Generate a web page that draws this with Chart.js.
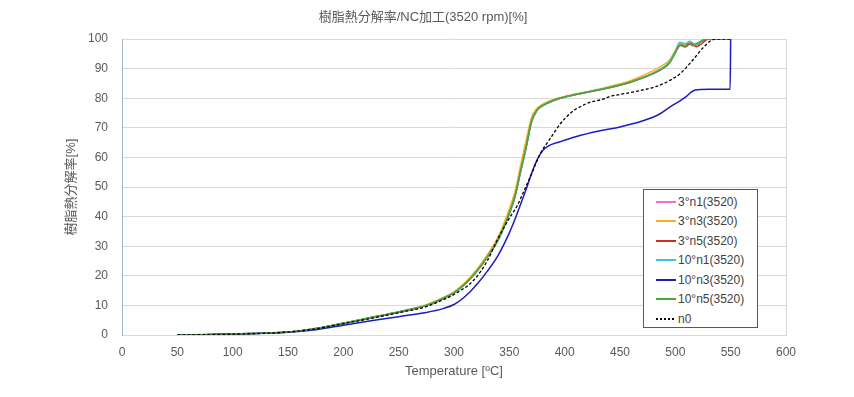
<!DOCTYPE html>
<html>
<head>
<meta charset="utf-8">
<script src="https://cdn.jsdelivr.net/npm/chart.js@4.4.1/dist/chart.umd.min.js"></script>
<style>
  body { margin: 0; background: #fff; font-family: "Liberation Sans", "Noto Sans CJK JP", sans-serif; }
  #wrap { position: relative; width: 854px; height: 397px; }
  #legend { position: absolute; left: 643px; top: 189px; width: 115px; height: 139px; box-sizing: border-box;
            border: 1px solid #595959; background: #fff; padding-top: 2px; }
  .row { height: 19.5px; display: flex; align-items: center; font-size: 12px; color: #404040; }
  .swatch { display: block; width: 20px; height: 2px; margin-left: 12px; margin-right: 2px; }
</style>
</head>
<body>
<div id="wrap">
  <canvas id="chart" width="854" height="397"></canvas>
  <div id="legend"></div>
</div>
<script>
const TITLE = "樹脂熱分解率/NC加工(3520 rpm)[%]";
const X_TITLE = "Temperature [ºC]";
const Y_TITLE = "樹脂熱分解率[%]";

const seriesNames = ["3°n1(3520)", "3°n3(3520)", "3°n5(3520)", "10°n1(3520)", "10°n3(3520)", "10°n5(3520)", "n0"];

// temperature [°C] / decomposition rate [%]
const t3n1 = [50, 75, 100, 125, 150, 175, 200, 225, 250, 275, 290, 300, 310, 320, 330, 340, 350, 355, 360, 365, 370, 375, 380, 390, 400, 420, 440, 460, 480, 490, 495, 500, 505, 510, 514, 518, 522, 529, 550];
const r3n1 = [0, 0.1, 0.3, 0.6, 1.0, 2.2, 4.0, 5.9, 7.8, 10.0, 12.4, 14.3, 17.3, 21.3, 26.3, 32.3, 41.3, 46.8, 55.3, 63.5, 72.2, 76.0, 77.5, 79.3, 80.4, 82.0, 83.6, 85.6, 88.5, 90.7, 92.3, 95.6, 98.4, 97.8, 98.9, 98.0, 98.8, 100, 100];

const t3n3 = [50, 75, 100, 125, 150, 175, 200, 225, 250, 275, 290, 300, 310, 320, 330, 340, 350, 355, 360, 365, 370, 375, 380, 390, 400, 420, 440, 460, 480, 490, 495, 500, 504, 509, 513, 517, 521, 528, 550];
const r3n3 = [0, 0.1, 0.3, 0.6, 1.0, 2.2, 4.0, 5.9, 7.9, 10.2, 12.6, 14.6, 17.7, 21.9, 27.0, 33.3, 42.6, 48.3, 57.0, 65.5, 73.5, 76.6, 78.0, 79.6, 80.6, 82.2, 83.9, 86.0, 89.3, 91.5, 93.0, 96.2, 98.6, 97.9, 98.8, 97.9, 98.6, 100, 100];

const t3n5 = [50, 75, 100, 125, 150, 175, 200, 225, 250, 275, 290, 300, 310, 320, 330, 340, 350, 355, 360, 365, 370, 375, 380, 390, 400, 420, 440, 460, 480, 490, 495, 500, 505, 509, 514, 519, 523, 530, 550];
const r3n5 = [0, 0.1, 0.3, 0.6, 1.0, 2.2, 4.0, 5.9, 7.8, 10.0, 12.3, 14.2, 17.2, 21.2, 26.2, 32.2, 41.0, 46.6, 55.0, 63.2, 72.0, 75.9, 77.4, 79.2, 80.4, 82.0, 83.5, 85.5, 88.4, 90.5, 92.2, 95.5, 98.0, 97.3, 98.6, 97.4, 98.2, 100, 100];

const t10n1 = [50, 75, 100, 125, 150, 175, 200, 225, 250, 275, 290, 300, 310, 320, 330, 340, 350, 355, 360, 365, 370, 375, 380, 390, 400, 420, 440, 460, 480, 490, 495, 500, 504, 509, 513, 517, 521, 527, 550];
const r10n1 = [0, 0.1, 0.3, 0.6, 1.0, 2.2, 4.0, 5.9, 7.8, 10.0, 12.3, 14.2, 17.2, 21.2, 26.2, 32.1, 41.0, 46.5, 54.8, 63.0, 71.8, 75.8, 77.4, 79.2, 80.4, 82.0, 83.5, 85.5, 88.4, 90.6, 92.4, 95.8, 98.9, 98.4, 99.2, 98.4, 98.9, 100, 100];

const t10n3 = [50, 100, 150, 175, 200, 225, 250, 275, 290, 300, 310, 320, 330, 340, 350, 355, 360, 366, 370, 375, 380, 385, 396, 410, 432, 450, 470, 485, 495, 505, 510, 514, 518, 530, 549.5, 550];
const r10n3 = [0, 0.3, 0.9, 1.8, 3.3, 4.8, 6.2, 7.6, 8.9, 10.3, 13.0, 16.8, 21.5, 27.0, 34.5, 39.0, 44.0, 50.1, 54.5, 59.1, 62.2, 63.8, 65.3, 67.0, 69.0, 70.3, 72.3, 74.5, 77.0, 79.3, 80.6, 82.0, 82.8, 83.0, 83.0, 100];

const t10n5 = [50, 75, 100, 125, 150, 175, 200, 225, 250, 275, 290, 300, 310, 320, 330, 340, 350, 355, 360, 365, 370, 375, 380, 390, 400, 420, 440, 460, 480, 490, 495, 500, 504, 508, 512, 516, 520, 528, 550];
const r10n5 = [0, 0.1, 0.3, 0.6, 1.0, 2.2, 4.0, 5.9, 7.8, 10.0, 12.4, 14.3, 17.3, 21.3, 26.3, 32.2, 41.2, 46.7, 55.0, 63.0, 72.0, 76.0, 77.5, 79.3, 80.4, 82.0, 83.5, 85.5, 88.3, 90.3, 92.0, 95.3, 97.9, 97.4, 98.5, 97.7, 98.3, 100, 100];

const tN0 = [50, 100, 150, 175, 200, 225, 250, 275, 290, 300, 318, 330, 339, 350, 357, 363, 369, 374, 379, 385, 390, 396, 402, 408, 414, 422, 432, 441, 455, 471, 483, 495, 505, 516, 525, 532, 537, 550];
const rN0 = [0, 0.3, 1.0, 2.1, 3.8, 5.6, 7.5, 9.6, 11.9, 13.7, 18.6, 25.0, 32.0, 39.5, 43.6, 48.5, 53.5, 58.0, 62.0, 65.3, 68.1, 71.3, 73.8, 75.8, 77.1, 78.5, 79.4, 80.6, 81.6, 82.8, 84.0, 86.0, 88.5, 93.0, 97.0, 99.4, 100, 100];

const xTicks = [0, 50, 100, 150, 200, 250, 300, 350, 400, 450, 500, 550, 600];
const yTicks = [0, 10, 20, 30, 40, 50, 60, 70, 80, 90, 100];

const temps = [t3n1, t3n3, t3n5, t10n1, t10n3, t10n5, tN0];
const rates = [r3n1, r3n3, r3n5, r10n1, r10n3, r10n5, rN0];
const COLORS = ["#f36fc8", "#f2b21b", "#cc2a24", "#3fc2de", "#1c1cc4", "#4ea43c", "#000000"];

const datasets = seriesNames.map((name, i) => ({
  label: name,
  data: temps[i].map((t, k) => ({ x: t, y: rates[i][k] })),
  borderColor: COLORS[i],
  backgroundColor: COLORS[i],
  borderWidth: name === "n0" ? 1.3 : 1.5,
  borderDash: name === "n0" ? [3, 2] : [],
  pointRadius: 0,
  showLine: true,
  cubicInterpolationMode: "monotone",
  order: seriesNames.length - i,
}));

const GRAY = "#595959";
const FONT = "'Liberation Sans', 'Noto Sans CJK JP', sans-serif";

new Chart(document.getElementById("chart"), {
  type: "scatter",
  data: { datasets },
  options: {
    responsive: false,
    animation: false,
    layout: { padding: { left: 60, right: 68, top: 0, bottom: 14 } },
    plugins: {
      legend: { display: false },
      tooltip: { enabled: false },
      title: {
        display: true,
        text: TITLE,
        color: GRAY,
        font: { family: FONT, size: 13, weight: "normal", lineHeight: 1.2 },
        padding: { top: 10, bottom: 13.4 },
      },
    },
    scales: {
      x: {
        type: "linear",
        min: 0,
        max: 600,
        afterBuildTicks: (s) => { s.ticks = xTicks.map((v) => ({ value: v })); },
        afterFit: (s) => { s.height = 48; },
        grid: { display: false, drawTicks: false },
        border: { color: "#d9d9d9" },
        ticks: { color: GRAY, padding: 10, maxRotation: 0, font: { family: FONT, size: 12 } },
        title: { display: true, text: X_TITLE, color: GRAY, font: { family: FONT, size: 13 }, padding: { top: 4, bottom: 4 } },
      },
      y: {
        min: 0,
        max: 100,
        afterBuildTicks: (s) => { s.ticks = yTicks.map((v) => ({ value: v })); },
        afterFit: (s) => { s.width = 62; },
        grid: { color: "#d9d9d9", drawTicks: false },
        border: { color: "#9fb6c3" },
        ticks: { color: GRAY, padding: 14, font: { family: FONT, size: 12 } },
        title: { display: true, text: Y_TITLE, color: GRAY, font: { family: FONT, size: 13 }, padding: { top: 4, bottom: 4 } },
      },
      y2: {
        position: "right",
        min: 0,
        max: 100,
        afterFit: (s) => { s.width = 0; },
        grid: { display: false, drawTicks: false },
        border: { color: "#d9d9d9" },
        ticks: { display: false },
      },
    },
  },
});

// legend box inside the plot, Excel style
const legend = document.getElementById("legend");
legend.innerHTML = seriesNames.map((name, i) => {
  const bg = name === "n0"
    ? "background:repeating-linear-gradient(90deg,#000 0 2px,transparent 2px 4px);height:1.5px"
    : `background:${COLORS[i]}`;
  return `<div class="row"><span class="swatch" style="${bg}"></span><span>${name}</span></div>`;
}).join("");
</script>
</body>
</html>
